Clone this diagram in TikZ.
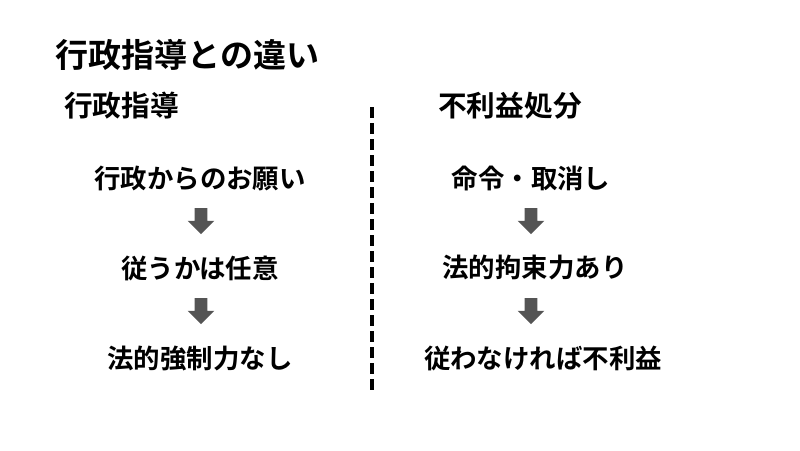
\documentclass[tikz,border=0pt]{standalone}
\usepackage{fontspec}
\setmainfont{Noto Sans CJK JP}[BoldFont={Noto Sans CJK JP Bold}]
\usetikzlibrary{shapes.arrows}

\tikzset{
  title/.style={anchor=west, inner sep=0pt, font=\bfseries\fontsize{23.5}{28}\selectfont},
  head/.style={anchor=west, inner sep=0pt, font=\bfseries\fontsize{20.4}{24}\selectfont},
  item/.style={inner sep=0pt, font=\bfseries\fontsize{18.8}{22}\selectfont},
  downarrow/.style={single arrow, shape border rotate=270, fill=black!67, draw=none,
    minimum height=0.65cm, minimum width=0.65cm, single arrow head extend=0.175cm, inner sep=0.15cm},
}

\begin{document}
\begin{tikzpicture}[x=0.025cm, y=-0.025cm]
\useasboundingbox (0,0) rectangle (800,450);
\node [title] (t) at (55,55) {行政指導との違い};
\node [head] (h1) at (64,106) {行政指導};
\node [head] (h2) at (438,106) {不利益処分};
% left column
\node [item] (l1) at (200,178) {行政からのお願い};
\node [item] (l2) at (200,268) {従うかは任意};
\node [item] (l3) at (200,358) {法的強制力なし};
\node [downarrow] (la) at (201,218) {};
\node [downarrow] (lb) at (201,308) {};
% right column
\node [item] (r1) at (531,178) {命令・取消し};
\node [item] (r2) at (535,268) {法的拘束力あり};
\node [item] (r3) at (543,358) {従わなければ不利益};
\node [downarrow] (ra) at (531,218) {};
\node [downarrow] (rb) at (531,308) {};
% divider
\coordinate (d1) at (372,107);
\coordinate (d2) at (372,392);
\draw [line width=1mm, dash pattern=on 2.75mm off 1.25mm] (d1) -- (d2);
\end{tikzpicture}
\end{document}
